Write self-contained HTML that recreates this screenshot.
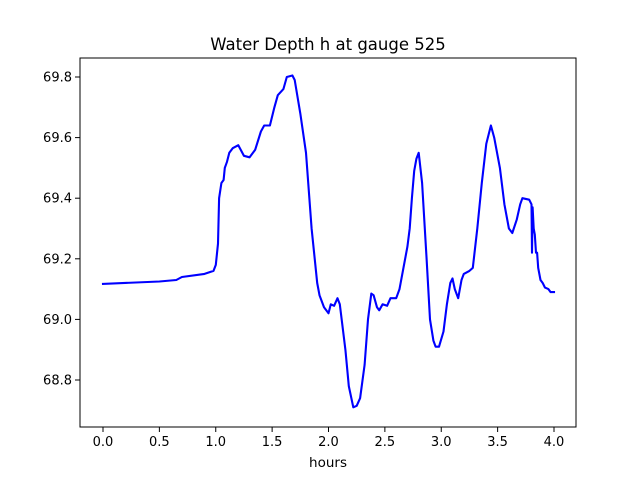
<!DOCTYPE html>
<html><head><meta charset="utf-8"><style>
body{margin:0;background:#fff;}
svg text{font-family:"DejaVu Sans","Liberation Sans",sans-serif;}
</style></head><body>
<svg id="chart" width="640" height="480" xmlns="http://www.w3.org/2000/svg">
<rect width="640" height="480" fill="#fff"/>
<text x="328" y="50" font-size="16.5" text-anchor="middle">Water Depth h at gauge 525</text>
<g id="plot"></g>
<text x="328" y="467" font-size="13.5" text-anchor="middle">hours</text>
</svg>
<script>
const xTicks=[0,0.5,1,1.5,2,2.5,3,3.5,4];
const xTickLabels=["0.0","0.5","1.0","1.5","2.0","2.5","3.0","3.5","4.0"];
const yTicks=[68.8,69.0,69.2,69.4,69.6,69.8];
const yTickLabels=["68.8","69.0","69.2","69.4","69.6","69.8"];
const hours=[0,0.5,0.65,0.7,0.9,0.98,1.0,1.02,1.03,1.05,1.07,1.08,1.1,1.12,1.15,1.2,1.25,1.3,1.35,1.4,1.43,1.48,1.52,1.55,1.6,1.63,1.68,1.7,1.75,1.8,1.85,1.9,1.92,1.96,2.0,2.02,2.05,2.08,2.1,2.15,2.18,2.22,2.25,2.28,2.32,2.35,2.38,2.4,2.43,2.45,2.48,2.52,2.55,2.6,2.63,2.7,2.72,2.74,2.76,2.78,2.8,2.83,2.87,2.9,2.93,2.95,2.98,3.02,3.05,3.08,3.1,3.12,3.15,3.18,3.2,3.25,3.28,3.32,3.36,3.4,3.44,3.47,3.52,3.56,3.6,3.63,3.67,3.7,3.72,3.78,3.8,3.805,3.81,3.82,3.83,3.84,3.85,3.86,3.88,3.9,3.92,3.95,3.97,4.0];
const depth=[69.117,69.125,69.13,69.14,69.15,69.16,69.18,69.25,69.4,69.45,69.46,69.5,69.52,69.55,69.565,69.575,69.54,69.535,69.56,69.62,69.64,69.64,69.7,69.74,69.76,69.8,69.805,69.79,69.68,69.55,69.3,69.12,69.08,69.04,69.02,69.05,69.045,69.07,69.05,68.9,68.78,68.71,68.715,68.74,68.85,69.0,69.085,69.08,69.04,69.03,69.05,69.045,69.07,69.07,69.1,69.24,69.3,69.4,69.49,69.53,69.55,69.45,69.2,69.0,68.93,68.91,68.91,68.96,69.05,69.12,69.135,69.1,69.07,69.13,69.15,69.16,69.17,69.3,69.45,69.58,69.64,69.6,69.5,69.38,69.3,69.285,69.33,69.38,69.4,69.395,69.38,69.22,69.37,69.3,69.28,69.22,69.22,69.17,69.13,69.12,69.105,69.1,69.09,69.09];
const L=80,R=576,T=58,B=427;
const xs=v=>103+v*112.75;
const ys=v=>77+(69.8-v)*303;
const NS="http://www.w3.org/2000/svg";
const g=document.getElementById('plot');
function mk(tag,attrs){const e=document.createElementNS(NS,tag);for(const k in attrs)e.setAttribute(k,attrs[k]);g.appendChild(e);return e;}
let d=hours.map((h,i)=>(i?'L':'M')+xs(h).toFixed(1)+','+ys(depth[i]).toFixed(1)).join(' ');
const line=mk('path',{d:d,fill:'none',stroke:'#0000ff','stroke-width':2.1,'stroke-linejoin':'round','stroke-linecap':'square'});


const frame=mk('rect',{x:L,y:T,width:R-L,height:B-T,fill:'none',stroke:'#000','stroke-width':1});


xTicks.forEach((v,i)=>{
  const t=mk('line',{x1:xs(v),x2:xs(v),y1:B,y2:B+5,stroke:'#000','stroke-width':1});
  
  
  const tx=mk('text',{x:xs(v),y:B+19,'font-size':13,'text-anchor':'middle'});
  tx.textContent=xTickLabels[i];
  
  
});
yTicks.forEach((v,i)=>{
  const t=mk('line',{x1:L-5,x2:L,y1:ys(v),y2:ys(v),stroke:'#000','stroke-width':1});
  
  
  const tx=mk('text',{x:L-8,y:ys(v)+4.5,'font-size':13,'text-anchor':'end'});
  tx.textContent=yTickLabels[i];
  
  
});
</script>
</body></html>
